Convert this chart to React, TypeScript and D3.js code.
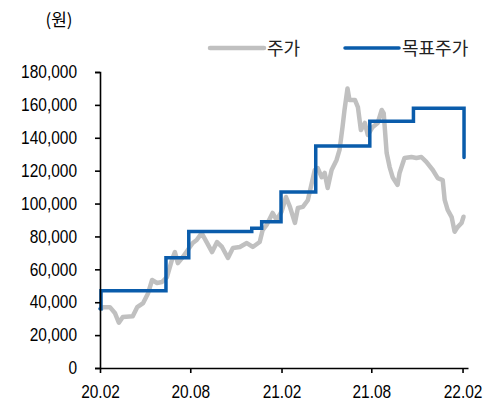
import React, { useRef, useEffect } from "react"
import * as d3 from "d3"

// 주가 (daily close, sampled)
const priceDates = [
  "2020-02-03", "2020-02-07", "2020-02-21", "2020-03-02", "2020-03-10", "2020-03-18",
  "2020-04-07", "2020-04-16", "2020-04-28", "2020-05-08", "2020-05-16", "2020-05-26",
  "2020-06-05", "2020-06-15", "2020-06-25", "2020-07-01", "2020-07-07", "2020-07-17",
  "2020-07-27", "2020-08-06", "2020-08-14", "2020-08-24", "2020-09-03", "2020-09-14",
  "2020-09-24", "2020-10-04", "2020-10-16", "2020-10-26", "2020-11-09", "2020-11-23",
  "2020-12-05", "2020-12-19", "2020-12-25", "2021-01-02", "2021-01-14", "2021-01-22",
  "2021-02-01", "2021-02-10", "2021-02-18", "2021-02-28", "2021-03-06", "2021-03-16",
  "2021-03-26", "2021-04-03", "2021-04-09", "2021-04-15", "2021-04-23", "2021-04-29",
  "2021-05-05", "2021-05-13", "2021-05-23", "2021-05-29", "2021-06-04", "2021-06-08",
  "2021-06-14", "2021-06-18", "2021-06-29", "2021-07-05", "2021-07-11", "2021-07-19",
  "2021-07-25", "2021-08-04", "2021-08-14", "2021-08-22", "2021-08-26", "2021-09-01",
  "2021-09-07", "2021-09-13", "2021-09-23", "2021-09-27", "2021-10-07", "2021-10-21",
  "2021-10-31", "2021-11-10", "2021-11-20", "2021-12-03", "2021-12-13", "2021-12-23",
  "2021-12-27", "2022-01-02", "2022-01-10", "2022-01-16", "2022-01-22", "2022-01-30",
  "2022-02-03"
]
const priceValues = [
  36000, 37000, 37000, 33500, 27500, 31000,
  31500, 37000, 39500, 45500, 53500, 51700,
  52300, 55300, 65700, 70500, 63800, 67500,
  71800, 76000, 77800, 82000, 76600, 70500,
  76600, 73600, 66900, 73000, 73600, 76000,
  73600, 76600, 83900, 87000, 94300, 90000,
  95000, 104000, 98000, 88200, 97300, 98000,
  102000, 112500, 120400, 121600, 116000, 118600,
  109500, 120400, 126500, 132600, 146600, 156900,
  170000, 163000, 163000, 158700, 144700, 149000,
  141700, 146600, 149000, 156900, 155000, 130700,
  122200, 116000, 111300, 118600, 127700, 128300,
  127700, 128300, 125300, 120400, 115500, 114300,
  102200, 96100, 91800, 82900, 85700, 88200,
  92000
]

// 목표주가
const targetDates = [
  "2020-02-01", "2020-02-03", "2020-06-13", "2020-07-29", "2020-12-03", "2020-12-23",
  "2021-01-31", "2021-04-11", "2021-07-29", "2021-10-25", "2022-02-04"
]
const targetValues = [
  36000, 47000, 67000, 83000, 85000, 89000,
  107000, 135000, 150000, 158000, 128000
]

const xTicks = ["2020-02-01", "2020-08-01", "2021-02-01", "2021-08-01", "2022-02-01"]
const yTicks = [0, 20000, 40000, 60000, 80000, 100000, 120000, 140000, 160000, 180000]

const GRAY = "#c0c0c0"
const BLUE = "#0a5cab"
const FONT = "'Liberation Sans', Arial, sans-serif"
const KFONT = "'Noto Sans CJK KR', sans-serif"

const App = () => {
  const ref = useRef(null)
  const width = 483
  const height = 408

  useEffect(() => {
    if (!ref.current) return
    const parse = d3.timeParse("%Y-%m-%d")
    const svg = d3.select(ref.current)
    svg.selectAll("*").remove()

    const x = d3
      .scaleTime()
      .domain([parse("2020-02-01"), parse("2022-02-12")])
      .range([100, 468])
    const y = d3.scaleLinear().domain([0, 180000]).range([368, 72])

    const price = priceDates.map((d, i) => ({ date: parse(d), value: priceValues[i] }))
    const target = targetDates.map((d, i) => ({ date: parse(d), value: targetValues[i] }))

    const line = d3
      .line()
      .x(d => x(d.date))
      .y(d => y(d.value))

    svg
      .append("path")
      .attr("d", line.curve(d3.curveLinear)(price))
      .attr("fill", "none")
      .attr("stroke", GRAY)
      .attr("stroke-width", 4.5)
      .attr("stroke-linejoin", "round")
      .attr("stroke-linecap", "round")

    svg
      .append("path")
      .attr("d", line.curve(d3.curveStepAfter)(target))
      .attr("fill", "none")
      .attr("stroke", BLUE)
      .attr("stroke-width", 3.5)
      .attr("stroke-linecap", "round")

    // tick labels in the original are a narrow face, so squeeze them a bit
    const sx = 0.86

    const yAxis = svg
      .append("g")
      .attr("transform", "translate(100,0)")
      .call(
        d3
          .axisLeft(y)
          .tickValues(yTicks)
          .tickSize(5)
          .tickSizeOuter(5)
          .tickFormat(d3.format(","))
      )
    yAxis.selectAll("text").attr("x", -23 / sx).attr("transform", `scale(${sx},1)`)

    const xAxis = svg
      .append("g")
      .attr("transform", "translate(0,368)")
      .call(
        d3
          .axisBottom(x)
          .tickValues(xTicks.map(parse))
          .tickSize(5)
          .tickSizeOuter(0)
          .tickPadding(12)
          .tickFormat(d3.timeFormat("%y.%m"))
      )
    xAxis.selectAll("text").attr("transform", `scale(${sx},1)`)

    svg.selectAll(".domain, .tick line").attr("stroke", "#000").attr("stroke-width", 1.6)
    svg
      .selectAll(".tick text")
      .attr("fill", "#000")
      .style("font-family", FONT)
      .style("font-size", "18px")

    svg
      .append("text")
      .attr("x", 59)
      .attr("y", 26)
      .attr("text-anchor", "middle")
      .style("font-family", KFONT)
      .style("font-size", "17px")
      .text("(원)")

    const legend = [
      { label: "주가", color: GRAY, x: 210, w: 4.5 },
      { label: "목표주가", color: BLUE, x: 345, w: 3.5 }
    ]
    const lg = svg.append("g").selectAll("g").data(legend).enter().append("g")
    lg.append("line")
      .attr("x1", d => d.x)
      .attr("x2", d => d.x + 54)
      .attr("y1", 48)
      .attr("y2", 48)
      .attr("stroke", d => d.color)
      .attr("stroke-width", d => d.w)
      .attr("stroke-linecap", "round")
    lg.append("text")
      .attr("x", d => d.x + 57)
      .attr("y", 54.5)
      .style("font-family", KFONT)
      .style("font-size", "18px")
      .attr("fill", "#222")
      .text(d => d.label)
  }, [ref])

  return (
    <div style={{ position: "absolute", left: 0, top: 0 }}>
      <svg ref={ref} width={width} height={height} style={{ display: "block" }} />
    </div>
  )
}

export default App
